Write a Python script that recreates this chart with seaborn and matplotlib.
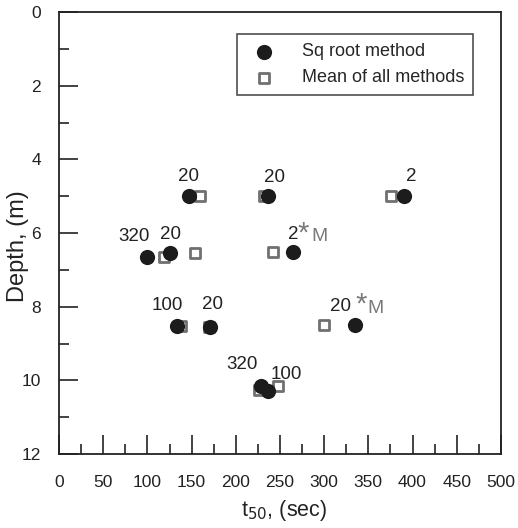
import pandas as pd
import seaborn as sns
import matplotlib.pyplot as plt
from matplotlib.ticker import MultipleLocator

# t50 (sec) and depth (m)
sq_t50 = [147, 236, 390, 100, 126, 265, 134, 171, 335, 228, 236]
sq_depth = [5.0, 5.0, 5.0, 6.65, 6.53, 6.5, 8.53, 8.55, 8.5, 10.15, 10.28]
sq_labels = ["20", "20", "2", "320", "20", "2", "100", "20", "20", "320", "100"]
sq_flag = [False, False, False, False, False, True, False, False, True, False, False]

mean_t50 = [160, 232, 376, 119, 154, 242, 138, 170, 300, 226, 248]
mean_depth = [5.0, 5.0, 5.0, 6.65, 6.53, 6.5, 8.53, 8.55, 8.5, 10.26, 10.15]

# label placement relative to each point (dx in sec, dy in m)
label_dx = [0, 8, 8, -15, 0, 0, -12, 3, -17, -21, 21]
label_dy = [-0.53, -0.5, -0.54, -0.57, -0.48, -0.45, -0.57, -0.6, -0.5, -0.57, -0.45]


def create_plot():
    sns.set_style("ticks")
    plt.rcParams['font.family'] = ['Liberation Sans', 'DejaVu Sans']

    sq = pd.DataFrame({'t50': sq_t50, 'depth': sq_depth})
    mean = pd.DataFrame({'t50': mean_t50, 'depth': mean_depth})

    fig = plt.figure(figsize=(5.18, 5.28), dpi=100)
    ax = fig.add_axes([0.114, 0.14, 0.853, 0.837])

    sns.scatterplot(data=mean, x='t50', y='depth', marker='s', s=50,
                    facecolor='white', edgecolor='#707070', linewidth=2,
                    label='Mean of all methods', zorder=3, ax=ax)
    sns.scatterplot(data=sq, x='t50', y='depth', marker='o', s=120,
                    color='#1c1c1c', edgecolor='#1c1c1c', linewidth=0,
                    label='Sq root method', zorder=4, ax=ax)

    for t, d, lab, dx, dy, flag in zip(sq_t50, sq_depth, sq_labels,
                                       label_dx, label_dy, sq_flag):
        x0, y0 = t + dx, d + dy
        ax.text(x0, y0, lab, ha='center', va='center',
                fontsize=13.5, color='#222222', zorder=5)
        if flag:
            star_dx = 11 if len(lab) == 1 else 24
            m_dx = 30 if len(lab) == 1 else 40
            ax.text(x0 + star_dx, y0 - 0.05, '*', ha='center', va='center',
                    fontsize=21, color='#7a7a7a', zorder=5)
            ax.text(x0 + m_dx, y0 + 0.05, 'M', ha='center', va='center',
                    fontsize=14, color='#7a7a7a', zorder=5)

    ax.set_xlim(0, 500)
    ax.set_ylim(12, 0)
    ax.xaxis.set_major_locator(MultipleLocator(50))
    ax.xaxis.set_minor_locator(MultipleLocator(25))
    ax.yaxis.set_major_locator(MultipleLocator(2))
    ax.yaxis.set_minor_locator(MultipleLocator(1))
    ax.tick_params(which='both', direction='in', width=1.2, color='#222222',
                   labelsize=12.5, labelcolor='#222222')
    ax.tick_params(which='major', length=13.5)
    ax.tick_params(which='minor', length=7.5)
    ax.tick_params(axis='x', which='major', pad=15)
    ax.tick_params(axis='y', which='major', pad=13)
    for side in ['top', 'right', 'left', 'bottom']:
        ax.spines[side].set_visible(True)
        ax.spines[side].set_linewidth(1.3)
        ax.spines[side].set_color('#222222')

    ax.set_xlabel('t$_{50}$, (sec)', fontsize=15.5, color='#222222')
    ax.set_ylabel('Depth, (m)', fontsize=17, color='#222222')
    ax.xaxis.set_label_coords(0.51, -0.1)
    ax.yaxis.set_label_coords(-0.068, 0.47)

    handles, labels = ax.get_legend_handles_labels()
    leg = ax.legend(handles[::-1], labels[::-1], loc='upper right',
                    bbox_to_anchor=(0.937, 0.95), fontsize=13, frameon=True,
                    fancybox=False, edgecolor='#222222', borderpad=0.5,
                    handletextpad=1.1, labelspacing=0.5, borderaxespad=0)
    leg.get_frame().set_linewidth(1.2)

    fig.savefig('out.png', dpi=100)


if __name__ == "__main__":
    create_plot()
